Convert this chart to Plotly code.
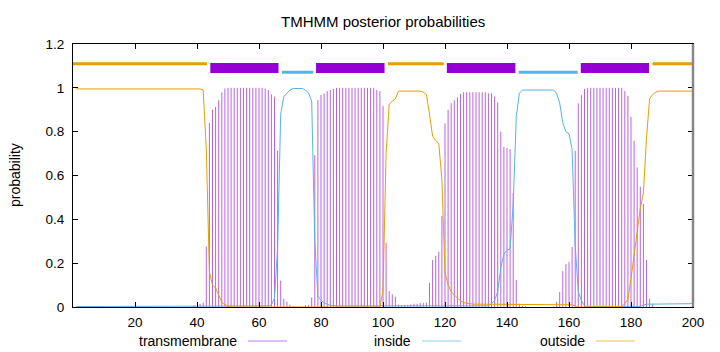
import plotly.graph_objects as go

# ---------------- data ----------------
residues = list(range(1, 201))

transmembrane = (
    [0.0] * 37 +
    [0.0, 0.008, 0.004] +                                              # 38-40
    [0.015, 0.02, 0.275, 0.84, 0.90, 0.913, 0.944, 0.979, 0.997, 1.0] +  # 41-50
    [1.0] * 10 +                                                      # 51-60
    [1.0, 0.997, 0.99, 0.97, 0.96, 0.713, 0.12, 0.038, 0.024, 0.01] +   # 61-70
    [0.005, 0.003, 0.003, 0.003, 0.008, 0.01, 0.044, 0.693, 0.944, 0.967] +  # 71-80
    [0.975, 0.985, 0.99, 0.995, 1.0, 1.0, 1.0, 1.0, 1.0, 1.0] +          # 81-90
    [1.0, 1.0, 1.0, 1.0, 1.0, 1.0, 1.0, 0.99, 0.985, 0.918] +            # 91-100
    [0.293, 0.073, 0.058, 0.047, 0.01, 0.008, 0.01, 0.01, 0.012, 0.015] +  # 101-110
    [0.015, 0.018, 0.018, 0.02, 0.11, 0.214, 0.233, 0.252, 0.415, 0.838] +  # 111-120
    [0.90, 0.93, 0.944, 0.957, 0.972, 0.98, 0.98, 0.98, 0.98, 0.98] +     # 121-130
    [0.98, 0.98, 0.98, 0.975, 0.975, 0.96, 0.934, 0.80, 0.731, 0.726] +   # 131-140
    [0.72, 0.52, 0.123, 0.015, 0.005, 0.003, 0.0, 0.0, 0.0, 0.0] +        # 141-150
    [0.0, 0.0, 0.0, 0.0, 0.003, 0.023, 0.068, 0.164, 0.196, 0.205] +      # 151-160
    [0.274, 0.712, 0.929, 0.967, 0.995, 1.0, 1.0, 1.0, 1.0, 1.0] +        # 161-170
    [1.0, 1.0, 1.0, 1.0, 1.0, 1.0, 1.0, 0.985, 0.963, 0.868] +            # 171-180
    [0.759, 0.637, 0.549, 0.47, 0.214, 0.038, 0.015, 0.0, 0.0, 0.0] +     # 181-190
    [0.0] * 10                                                        # 191-200
)

inside = (
    [0.002] * 60 +
    [0.002, 0.003, 0.005, 0.01, 0.04, 0.27, 0.88, 0.96, 0.975, 0.99] +    # 61-70
    [0.997, 0.997, 0.997, 0.997, 0.99, 0.975, 0.94, 0.30, 0.05, 0.03] +   # 71-80
    [0.02, 0.012, 0.008] + [0.005] * 51 +                              # 81-134
    [0.015, 0.03, 0.07, 0.18, 0.24, 0.26, 0.265, 0.47, 0.87, 0.975] +     # 135-144
    [0.99] * 11 +                                                     # 145-155
    [0.975, 0.93, 0.84, 0.80, 0.79, 0.72, 0.28, 0.07, 0.03, 0.005] +      # 156-165
    [0.002] * 17 +                                                    # 166-182
    [0.003, 0.008] + [0.013] * 14 + [0.015, 0.018]                    # 183-200
)

outside = (
    [0.995] * 41 +
    [0.99, 0.72, 0.16, 0.10, 0.087, 0.056, 0.021, 0.01, 0.003] +          # 42-50
    [0.0] * 49 +                                                      # 51-99
    [0.075, 0.70, 0.925, 0.94, 0.95, 0.985, 0.985, 0.985, 0.985, 0.985] +  # 100-109
    [0.985, 0.985, 0.985, 0.98, 0.97, 0.88, 0.78, 0.76, 0.745, 0.58] +    # 110-119
    [0.16, 0.10, 0.07, 0.055, 0.04, 0.028, 0.02, 0.018] +               # 120-127
    [0.013] * 33 +                                                    # 128-160
    [0.01, 0.005] + [0.0] * 14 +                                      # 161-176
    [0.002, 0.015, 0.035, 0.13, 0.24, 0.36, 0.45, 0.52, 0.77, 0.95, 0.97, 0.98] +  # 177-188
    [0.985] * 12                                                      # 189-200
)

# predicted topology segments (bar at the top)
seg_kind = ["outside", "TMhelix", "inside", "TMhelix", "outside",
            "TMhelix", "inside", "TMhelix", "outside"]
seg_start = [0.0, 44.3, 67.4, 78.4, 101.6, 120.6, 143.8, 163.8, 186.9]
seg_end = [43.2, 66.3, 77.5, 100.5, 119.6, 142.7, 162.8, 185.8, 200.0]

x_ticks = [20, 40, 60, 80, 100, 120, 140, 160, 180, 200]
y_ticks = [0, 0.2, 0.4, 0.6, 0.8, 1.0, 1.2]

title_text = "TMHMM posterior probabilities"
y_title = "probability"
legend_names = ["transmembrane", "inside", "outside"]

# ---------------- style ----------------
PURPLE = "#9400d3"
IMPULSE = "rgba(148,0,211,0.62)"
BLUE = "#56b4e9"
ORANGE = "#e69f00"
FONT = "Liberation Sans, Arial, sans-serif"

W, H = 720, 352
L, R, T, B = 73, 693, 44, 307   # plot area in pixels


def px_x(p):
    return (p - L) / (R - L)


def px_y(p):
    return (B - p) / (B - T)


# ---------------- figure ----------------
fig = go.Figure()

ix, iy = [], []
for r, v in zip(residues, transmembrane):
    ix += [r, r, None]
    iy += [0, v, None]
fig.add_trace(go.Scatter(x=ix, y=iy, mode="lines",
                         line=dict(color=IMPULSE, width=1),
                         name=legend_names[0], hoverinfo="skip"))
fig.add_trace(go.Scatter(x=residues, y=inside, mode="lines",
                         line=dict(color=BLUE, width=1), name=legend_names[1]))
fig.add_trace(go.Scatter(x=residues, y=outside, mode="lines",
                         line=dict(color=ORANGE, width=1), name=legend_names[2]))

shapes = []
for kind, s, e in zip(seg_kind, seg_start, seg_end):
    if kind == "TMhelix":
        shapes.append(dict(type="rect", xref="x", yref="y", x0=s, x1=e,
                           y0=1.068, y1=1.113, fillcolor=PURPLE,
                           line=dict(width=0), layer="above"))
    elif kind == "outside":
        shapes.append(dict(type="line", xref="x", yref="y", x0=s, x1=e,
                           y0=1.11, y1=1.11,
                           line=dict(color=ORANGE, width=3), layer="above"))
    else:
        shapes.append(dict(type="line", xref="x", yref="y", x0=s, x1=e,
                           y0=1.071, y1=1.071,
                           line=dict(color=BLUE, width=3), layer="above"))

# gray right border like the reference
shapes.append(dict(type="line", xref="paper", yref="paper", x0=1, x1=1,
                   y0=0, y1=1, line=dict(color="#888888", width=2.5)))

annotations = []
# legend (gnuplot style: text right aligned, sample to the right)
leg_text_right = [239, 413, 587]
leg_sample = [(248, 287), (422, 461), (596, 635)]
leg_colors = ["#c27ee6", "#8ccbef", "#efc04d"]
leg_y = 341
for name, tr, (s0, s1), c in zip(legend_names, leg_text_right, leg_sample, leg_colors):
    annotations.append(dict(text=name, xref="paper", yref="paper",
                            x=px_x(tr), y=px_y(leg_y), xanchor="right",
                            yanchor="middle", showarrow=False,
                            font=dict(family=FONT, size=14, color="black")))
    shapes.append(dict(type="line", xref="paper", yref="paper",
                       x0=px_x(s0), x1=px_x(s1), y0=px_y(leg_y), y1=px_y(leg_y),
                       line=dict(color=c, width=1)))

annotations.append(dict(text=title_text, xref="paper", yref="paper",
                        x=px_x(383), y=px_y(22), xanchor="center",
                        yanchor="middle", showarrow=False,
                        font=dict(family=FONT, size=15, color="black")))
annotations.append(dict(text=y_title, xref="paper", yref="paper",
                        x=px_x(15), y=px_y(175), xanchor="center",
                        yanchor="middle", showarrow=False, textangle=-90,
                        font=dict(family=FONT, size=14, color="black")))

fig.update_layout(
    width=W, height=H,
    margin=dict(l=L, r=W - R, t=T, b=H - B, pad=0),
    paper_bgcolor="white", plot_bgcolor="white",
    showlegend=False,
    font=dict(family=FONT, size=13.5, color="black"),
    shapes=shapes, annotations=annotations,
    xaxis=dict(range=[0, 200], tickvals=x_ticks, ticks="inside", ticklen=5,
               tickcolor="black", showline=True, linecolor="black",
               linewidth=1, mirror="allticks", showgrid=False,
               zeroline=False, tickfont=dict(size=13.5),
               ticklabelstandoff=3),
    yaxis=dict(range=[0, 1.2], tickvals=y_ticks, ticks="inside", ticklen=5,
               tickcolor="black", showline=True, linecolor="black",
               linewidth=1, mirror="allticks", showgrid=False,
               zeroline=False, tickfont=dict(size=13.5),
               ticklabelstandoff=5),
)

fig.write_html("out.html")
